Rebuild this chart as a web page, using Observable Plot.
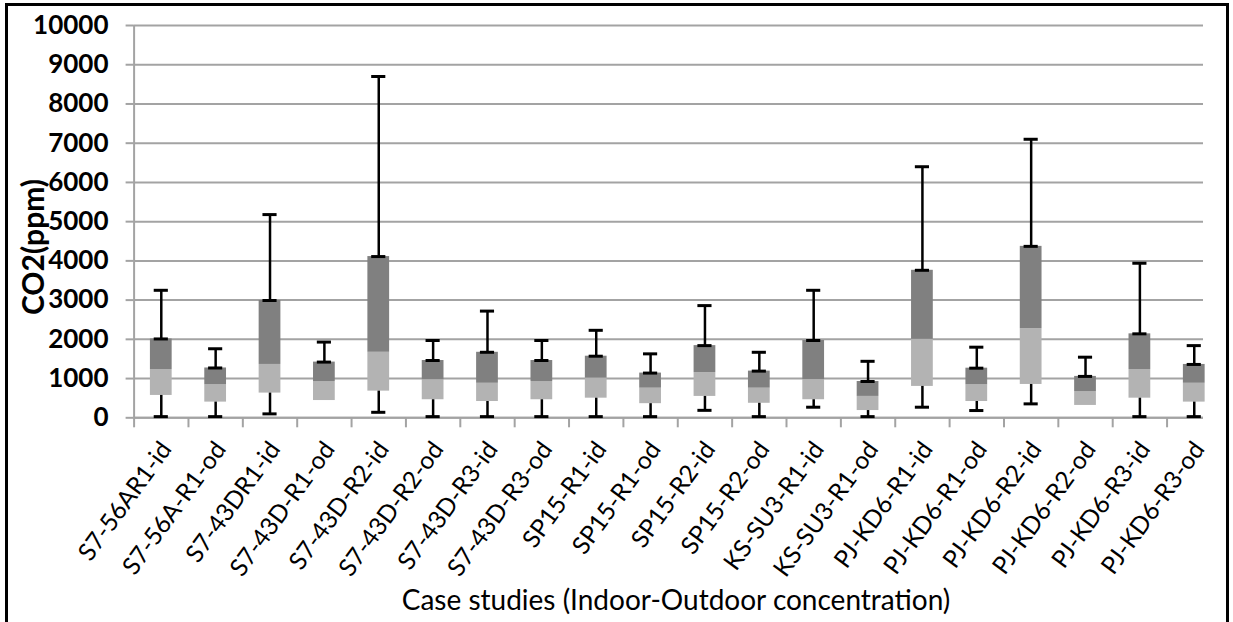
<!DOCTYPE html>
<html><head><meta charset="utf-8">
<script src="https://cdn.jsdelivr.net/npm/d3@7"></script>
<script src="https://cdn.jsdelivr.net/npm/@observablehq/plot@0.6"></script>
<style>
html,body{margin:0;padding:0;background:#fff;overflow:hidden;width:1233px;height:622px;font-family:Lato,sans-serif;}
#chart{position:absolute;left:0;top:0;width:1233px;height:622px;}
#chart svg{max-width:none !important;width:1233px;height:622px;}
#frame{position:absolute;left:5px;top:3px;width:1218px;height:700px;border:3px solid #000;pointer-events:none;}
#ytitle{position:absolute;left:32px;top:247px;transform:translate(-50%,-50%) rotate(-90deg);font-weight:bold;font-size:30px;font-family:Lato;white-space:nowrap;color:#000;}
#xtitle{position:absolute;left:676px;top:599px;transform:translate(-50%,-50%);font-size:28px;font-family:Lato;white-space:nowrap;color:#000;}
g[aria-label="y-axis tick label"] text{font-weight:bold;}
</style></head><body>
<div id="chart"></div>
<div id="frame"></div>
<div id="ytitle">CO2(ppm)</div>
<div id="xtitle">Case studies (Indoor-Outdoor concentration)</div>
<script>
const categories = ["S7-56AR1-id","S7-56A-R1-od","S7-43DR1-id","S7-43D-R1-od","S7-43D-R2-id","S7-43D-R2-od","S7-43D-R3-id","S7-43D-R3-od","SP15-R1-id","SP15-R1-od","SP15-R2-id","SP15-R2-od","KS-SU3-R1-id","KS-SU3-R1-od","PJ-KD6-R1-id","PJ-KD6-R1-od","PJ-KD6-R2-id","PJ-KD6-R2-od","PJ-KD6-R3-id","PJ-KD6-R3-od"];
const minV = [30,30,100,null,140,30,30,30,30,30,190,30,270,30,270,185,355,null,30,30];
const q1V  = [570,400,630,440,680,460,415,460,500,360,545,370,460,185,800,415,850,315,500,400];
const medV = [1230,840,1360,925,1670,970,880,925,1010,755,1150,755,975,545,2000,840,2270,670,1230,880];
const q3V  = [2010,1270,2990,1420,4110,1460,1670,1460,1570,1140,1840,1190,1970,925,3760,1265,4370,1055,2140,1360];
const maxV = [3250,1760,5180,1930,8700,1970,2720,1970,2230,1630,2860,1670,3250,1440,6400,1800,7100,1545,3940,1840];
const yTicks = [0,1000,2000,3000,4000,5000,6000,7000,8000,9000,10000];

const rows = categories.map((c, i) => ({i, c, min: minV[i], q1: q1V[i], med: medV[i], q3: q3V[i], max: maxV[i]}));
const withMin = rows.filter(d => d.min != null);
const gray = "#a3a3a3";
const boxHalf = 0.2, capHalf = 0.13;

const chart = Plot.plot({
  width: 1233, height: 622,
  marginLeft: 133.6, marginRight: 30, marginTop: 25, marginBottom: 204.7,
  style: {fontFamily: "Lato", background: "transparent", color: "#000"},
  x: {type: "linear", domain: [0, 19.67]},
  y: {domain: [0, 10000]},
  marks: [
    Plot.gridY(yTicks, {stroke: gray, strokeOpacity: 1, strokeWidth: 2}),
    Plot.axisY(yTicks, {tickSize: 8, tickPadding: 17.6, stroke: gray, strokeWidth: 2, fontSize: 26, fontWeight: "bold", label: null, tickFormat: d => String(d)}),
    Plot.ruleX([0], {stroke: gray, strokeWidth: 2}),
    Plot.ruleY([0], {stroke: gray, strokeWidth: 2}),
    Plot.axisX(d3.range(0, 20), {tickSize: 10, stroke: gray, strokeWidth: 2, tickFormat: () => "", label: null}),
    Plot.axisX(d3.range(20).map(i => i + 0.5), {tickSize: 0, tickPadding: 27, tickRotate: -54, dx: 5, fontSize: 24.5, tickFormat: d => categories[Math.floor(d)], label: null}),
    Plot.rect(rows, {x1: d => d.i + 0.5 - boxHalf, x2: d => d.i + 0.5 + boxHalf, y1: "q1", y2: "med", fill: "#b3b3b3"}),
    Plot.rect(rows, {x1: d => d.i + 0.5 - boxHalf, x2: d => d.i + 0.5 + boxHalf, y1: "med", y2: "q3", fill: "#808080"}),
    Plot.ruleX(rows, {x: d => d.i + 0.5, y1: "q3", y2: "max", stroke: "#000", strokeWidth: 2.5}),
    Plot.ruleX(withMin, {x: d => d.i + 0.5, y1: "min", y2: "q1", stroke: "#000", strokeWidth: 2.5}),
    Plot.ruleY(rows, {y: "max", x1: d => d.i + 0.5 - capHalf, x2: d => d.i + 0.5 + capHalf, stroke: "#000", strokeWidth: 3}),
    Plot.ruleY(rows, {y: "q3", x1: d => d.i + 0.5 - capHalf, x2: d => d.i + 0.5 + capHalf, stroke: "#000", strokeWidth: 3}),
    Plot.ruleY(withMin, {y: "min", x1: d => d.i + 0.5 - capHalf, x2: d => d.i + 0.5 + capHalf, stroke: "#000", strokeWidth: 3})
  ]
});
document.getElementById("chart").appendChild(chart);
</script>
</body></html>
